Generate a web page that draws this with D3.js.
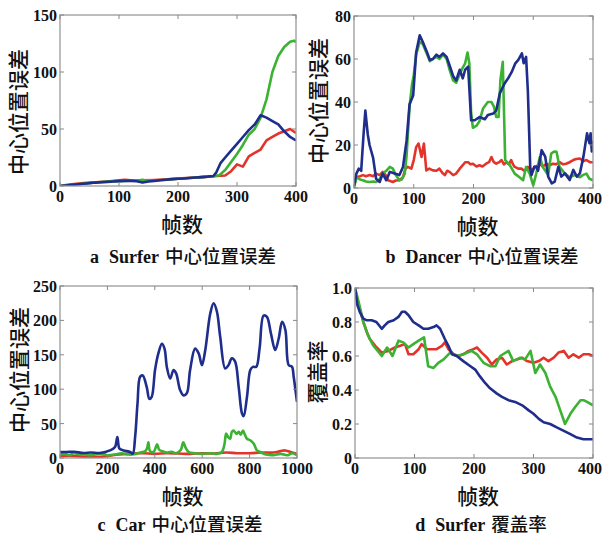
<!DOCTYPE html>
<html>
<head>
<meta charset="utf-8">
<script src="https://cdn.jsdelivr.net/npm/d3@7"></script>
<style>
  body { margin: 0; background: #fff; }
  svg { display: block; }
  .tick-label { font-family: "Liberation Serif", serif; font-weight: bold; font-size: 16px; fill: #111; }
  .cjk { font-family: "Noto Sans CJK SC", sans-serif; font-weight: 500; fill: #111; }
  .latin { font-family: "Liberation Serif", serif; font-weight: bold; fill: #111; }
</style>
</head>
<body>
<div id="chart"></div>
<script>
// colours of the three trackers
const colours = { red: '#e3342c', green: '#3cb233', blue: '#1f2d8c' };

// a: Surfer centre error  [frame, error]
const surferRed = [[0,0],[10,0.8],[20,1.5],[40,2.5],[60,3.3],[80,4],[100,5],[110,5.5],[120,5],[140,5],[160,5.3],[180,5.8],[200,6.5],[220,7.2],[240,7.8],[260,8.5],[280,9.2],[290,13],[300,19],[310,17],[320,26],[330,29],[340,32],[350,40],[360,43],[370,46],[380,48],[390,50],[400,46.5]];
const surferGreen = [[0,0],[10,0.5],[20,1],[40,2],[60,3],[80,3.8],[100,4.3],[120,4.6],[135,5],[140,5.5],[145,4.8],[160,4.8],[180,5.5],[200,6.3],[220,7],[240,7.8],[260,8.5],[270,9.5],[280,14],[290,21],[300,28],[310,36],[320,45],[330,50],[340,60],[350,76],[360,100],[370,114],[380,122],[390,126.5],[397,127.5],[400,126]];
const surferBlue = [[0,0],[10,0.5],[20,1],[30,1.5],[40,2],[50,2.5],[60,3],[70,3.3],[80,3.6],[90,4],[100,4.3],[110,4.5],[120,4.5],[130,4.2],[140,3],[150,4],[160,4.5],[170,5],[180,5.5],[190,6],[200,6.3],[210,6.6],[220,7],[230,7.4],[240,7.8],[250,8.2],[260,8.8],[265,12],[272,20],[280,25],[290,31],[300,37],[310,43],[320,49],[330,54],[340,62],[350,60],[360,57],[370,54],[380,48],[390,43],[400,40]];

// b: Dancer centre error
const dancerRed = [[0,1],[4,5],[10,5.5],[15,6],[20,5.5],[26,6],[32,5.5],[37,6.7],[43,6],[48,7.5],[53,6],[57,3.6],[65,2.8],[70,3.5],[76,3.6],[82,5],[86,9],[90,9.8],[96,9],[100,13],[104,19],[108,20.7],[113,14.4],[117,20.7],[121,8.2],[126,9],[132,8.2],[138,8],[143,9],[148,7],[152,6],[156,8],[160,7.5],[166,6],[171,6.7],[177,9],[182,10.6],[186,12],[191,12],[195,11],[199,11.3],[205,10],[210,10.6],[215,10],[221,11.3],[226,12],[230,14.4],[234,12],[238,11.3],[243,12],[247,13],[251,11],[255,12],[259,11],[263,13],[266,11],[269,9.8],[275,9],[280,9],[285,8],[291,9.8],[296,8.5],[300,9],[305,10],[311,11.3],[316,10],[322,11.3],[327,10.5],[333,11.3],[338,11],[344,12],[350,11],[355,11.3],[361,12],[367,13],[372,13.5],[378,13.7],[384,12.5],[389,13],[395,12],[400,12]];
const dancerGreen = [[0,0],[4,5],[10,4],[15,3.6],[20,3],[26,2.8],[32,3],[37,2.8],[43,4],[48,6.7],[54,8],[60,9.8],[65,9],[70,6],[76,3.6],[80,4],[85,6.7],[88,15],[93,38],[97,48],[100,52.5],[104,62],[110,68],[115,67],[121,63],[127,59],[132,60],[138,61],[143,60],[149,62],[155,60],[160,55],[166,50],[171,49],[177,53],[182,56],[186,58],[190,63],[193,58],[196,35],[199,28],[205,29],[210,31],[216,37],[224,40],[230,40],[234,38],[238,33],[242,33],[245,50],[249,58.7],[253,13],[260,11],[269,6.7],[277,5],[283,3.6],[288,9.8],[294,6.7],[300,1.2],[305,6.7],[311,14.4],[316,9.8],[325,6],[330,16],[335,17],[339,16.8],[344,9.8],[353,6.7],[361,5],[369,6],[378,5],[383,6],[389,6.7],[394,4.3],[400,3.6]];
const dancerBlue = [[0,1],[4,6.7],[8,9],[12,8],[16,25],[19,36],[23,25],[26,20],[32,14],[37,4.3],[43,2.8],[48,6.7],[54,3.6],[60,7.5],[68,6.7],[76,6],[82,9.8],[88,22],[93,39],[99,43],[104,63],[110,71],[115,68],[121,64],[127,59.5],[132,60],[138,62],[143,61],[149,62.6],[155,61],[160,57],[166,52],[171,50],[177,55],[182,51],[186,55],[191,56.4],[196,31.5],[202,31.5],[210,33],[219,32],[224,34],[233,34.6],[238,36],[244,44],[252,48.6],[258,51],[264,54],[270,58],[275,59.6],[281,62.6],[284,58],[288,61],[291,45],[295,9],[297,6],[302,10],[305,9.9],[308,8],[314,17.6],[320,14.6],[325,5.3],[331,2.2],[336,3],[342,9.9],[347,5.3],[353,6.8],[361,3.7],[367,8.4],[373,5.3],[378,6.8],[384,14.6],[390,25.4],[394,20.8],[396,25.4],[398,17],[400,22]];

// c: Car centre error
const carRed = [[0,3],[50,3],[100,2],[150,1],[200,3],[250,5],[300,6.5],[350,7],[400,6],[450,7],[500,6.5],[550,6],[600,7],[650,6.5],[700,8],[750,7],[800,7],[850,8],[900,8],[930,10],[950,11],[970,9],[1000,6]];
const carGreen = [[0,5],[20,6],[40,4],[60,7],[80,5],[100,6],[120,4],[150,5],[180,6],[200,4],[230,5],[260,7],[290,5],[320,6],[340,8],[360,10],[368,15],[373,23],[380,10],[395,9],[410,20],[418,12],[430,10],[450,8],[470,9],[490,7],[510,12],[520,23],[530,15],[545,8],[570,7],[600,6],[630,7],[660,6],[683,8.7],[694,20],[701,35.4],[710,30],[718,28],[725,38],[732,40],[745,35],[754,38],[763,34],[772,40],[780,34],[789,28],[803,25.7],[817,21],[831,11],[845,8.7],[870,5],[900,4],[930,6],[960,4],[980,7],[1000,4]];
const carBlue = [[0,8.7],[28,8.7],[60,9],[99,7.3],[130,8],[169,7.3],[211,11],[232,16],[242,30.6],[251,13.6],[268,11],[296,8.7],[307,6.3],[317,30.6],[327,79],[338,118],[349,120],[366,103],[377,86],[387,89],[401,128],[415,152],[430,166],[441,159],[451,132],[465,115.5],[479,128],[490,123],[507,98.5],[521,91],[535,94],[549,128],[570,159],[585,152],[599,135],[613,157],[634,210],[648,225],[662,213],[676,176],[697,130],[711,135],[725,145],[739,140],[754,103],[768,64.6],[775,60.7],[789,89],[803,128],[814,132.5],[828,132.5],[842,159],[859,207],[873,205],[890,181],[908,157],[923,174],[937,198],[951,186],[965,135],[979,132.5],[986,118],[1000,81.5]];

// d: Surfer overlap rate
const overlapRed = [[0,1.0],[6,0.90],[14,0.80],[20,0.74],[25,0.70],[34,0.66],[45,0.62],[56,0.63],[67,0.65],[76,0.66],[84,0.67],[90,0.61],[98,0.61],[107,0.64],[112,0.67],[121,0.64],[129,0.64],[137,0.64],[146,0.66],[151,0.68],[157,0.64],[166,0.61],[174,0.60],[182,0.61],[191,0.63],[199,0.64],[205,0.65],[213,0.62],[222,0.59],[230,0.55],[238,0.58],[247,0.59],[255,0.55],[264,0.57],[272,0.58],[281,0.59],[289,0.57],[300,0.56],[309,0.57],[317,0.59],[325,0.57],[334,0.59],[342,0.62],[351,0.63],[359,0.59],[367,0.61],[376,0.59],[384,0.61],[393,0.61],[400,0.60]];
const overlapGreen = [[0,1.0],[6,0.92],[14,0.80],[22,0.72],[31,0.66],[45,0.60],[54,0.65],[63,0.60],[73,0.69],[81,0.68],[90,0.65],[98,0.67],[107,0.69],[116,0.71],[123,0.54],[132,0.53],[140,0.56],[149,0.58],[160,0.62],[171,0.60],[182,0.61],[196,0.63],[205,0.61],[216,0.56],[227,0.54],[236,0.54],[244,0.60],[258,0.63],[266,0.57],[278,0.59],[286,0.58],[295,0.63],[303,0.50],[311,0.55],[320,0.50],[328,0.42],[337,0.36],[345,0.28],[353,0.20],[362,0.26],[370,0.30],[379,0.34],[384,0.34],[390,0.33],[400,0.31]];
const overlapBlue = [[0,1.0],[4,0.9],[8,0.86],[14,0.82],[20,0.81],[28,0.81],[36,0.80],[45,0.76],[50,0.78],[56,0.80],[65,0.81],[73,0.83],[79,0.86],[84,0.86],[90,0.84],[98,0.80],[107,0.78],[115,0.76],[123,0.76],[132,0.77],[137,0.78],[143,0.76],[151,0.70],[157,0.66],[163,0.61],[171,0.60],[182,0.57],[194,0.54],[202,0.52],[210,0.48],[219,0.44],[227,0.41],[238,0.38],[247,0.36],[258,0.34],[269,0.33],[281,0.31],[292,0.28],[300,0.26],[309,0.23],[317,0.21],[328,0.20],[339,0.18],[351,0.16],[362,0.14],[373,0.12],[384,0.11],[400,0.11]];

// tick values
const ticks400 = [0, 100, 200, 300, 400];
const ticks1000 = [0, 200, 400, 600, 800, 1000];
const ticksSurfer = [0, 50, 100, 150];
const ticksDancer = [0, 20, 40, 60, 80];
const ticksCar = [0, 50, 100, 150, 200, 250];
const ticksOverlap = [0, 0.2, 0.4, 0.6, 0.8, 1.0];

const xLabel = '帧数';
const errLabel = '中心位置误差';
const overlapLabel = '覆盖率';

const W = 603, H = 537;

const panels = [
  { box: [60, 296, 15, 186], xd: [0, 400], yd: [0, 150], xt: ticks400, yt: ticksSurfer,
    ylab: errLabel, ylx: 17, yly: 112, letter: 'a', name: 'Surfer', cap: errLabel, capx: 183, capy: 263,
    series: [surferRed, surferGreen, surferBlue], curve: d3.curveLinear },
  { box: [354, 593, 16, 188], xd: [0, 400], yd: [0, 80], xt: ticks400, yt: ticksDancer,
    ylab: errLabel, ylx: 317, yly: 101, letter: 'b', name: 'Dancer', cap: errLabel, capx: 482, capy: 263,
    series: [dancerRed, dancerGreen, dancerBlue], curve: d3.curveLinear },
  { box: [60, 297, 286, 458], xd: [0, 1000], yd: [0, 250], xt: ticks1000, yt: ticksCar,
    ylab: errLabel, ylx: 18, yly: 370, letter: 'c', name: 'Car', cap: errLabel, capx: 180, capy: 531,
    series: [carRed, carGreen, carBlue], curve: d3.curveCatmullRom },
  { box: [355, 593, 288, 458], xd: [0, 400], yd: [0, 1], xt: ticks400, yt: ticksOverlap,
    ylab: overlapLabel, ylx: 316, yly: 372, letter: 'd', name: 'Surfer', cap: overlapLabel, capx: 481, capy: 531,
    series: [overlapRed, overlapGreen, overlapBlue], curve: d3.curveLinear,
    yfmt: (d) => d === 0 ? '0' : d3.format('.1f')(d) }
];

const svg = d3.select('#chart').append('svg')
  .attr('width', W)
  .attr('height', H);

panels.forEach((p, i) => {
  const [x0, x1, y0, y1] = p.box;
  const x = d3.scaleLinear().domain(p.xd).range([x0, x1]);
  const y = d3.scaleLinear().domain(p.yd).range([y1, y0]);
  const g = svg.append('g');
  const xfmt = d3.format('d');
  const yfmt = p.yfmt || d3.format('d');

  // clip for the lines
  g.append('clipPath').attr('id', 'clip' + i)
    .append('rect').attr('x', x0).attr('y', y0 - 2)
    .attr('width', x1 - x0).attr('height', y1 - y0 + 2);

  const line = d3.line().x((d) => x(d[0])).y((d) => y(d[1])).curve(p.curve);
  const cols = [colours.red, colours.green, colours.blue];
  g.append('g').attr('clip-path', `url(#clip${i})`)
    .selectAll('path')
    .data(p.series)
    .join('path')
    .attr('d', line)
    .attr('fill', 'none')
    .attr('stroke', (d, k) => cols[k])
    .attr('stroke-width', 2.6)
    .attr('stroke-linejoin', 'round');

  // frame + inward ticks on all four sides
  g.append('rect').attr('x', x0).attr('y', y0)
    .attr('width', x1 - x0).attr('height', y1 - y0)
    .attr('fill', 'none').attr('stroke', '#9a9a9a').attr('stroke-width', 1.3);

  const tk = 4;
  p.xt.forEach((t) => {
    g.append('line').attr('x1', x(t)).attr('x2', x(t)).attr('y1', y1).attr('y2', y1 - tk).attr('stroke', '#888');
    g.append('line').attr('x1', x(t)).attr('x2', x(t)).attr('y1', y0).attr('y2', y0 + tk).attr('stroke', '#888');
  });
  p.yt.forEach((t) => {
    g.append('line').attr('x1', x0).attr('x2', x0 + tk).attr('y1', y(t)).attr('y2', y(t)).attr('stroke', '#888');
    g.append('line').attr('x1', x1).attr('x2', x1 - tk).attr('y1', y(t)).attr('y2', y(t)).attr('stroke', '#888');
  });

  g.selectAll('.xt').data(p.xt).join('text')
    .attr('class', 'tick-label')
    .attr('x', (d) => x(d)).attr('y', y1 + 16)
    .attr('text-anchor', 'middle')
    .text((d) => xfmt(d))
    .each(function () {
      // keep the rightmost label inside the page
      const b = this.getBBox();
      if (b.x + b.width > W - 1) d3.select(this).attr('x', +d3.select(this).attr('x') - (b.x + b.width - W + 1));
    });

  g.selectAll('.yt').data(p.yt).join('text')
    .attr('class', 'tick-label')
    .attr('x', x0 - 3).attr('y', (d) => y(d) + 6)
    .attr('text-anchor', 'end')
    .text((d) => yfmt(d));

  // axis titles
  g.append('text').attr('class', 'cjk')
    .attr('transform', `translate(${p.ylx},${p.yly}) rotate(-90)`)
    .attr('text-anchor', 'middle').attr('dominant-baseline', 'central')
    .style('font-size', '21px')
    .text(p.ylab);

  g.append('text').attr('class', 'cjk')
    .attr('x', (x0 + x1) / 2 + 4).attr('y', y1 + 37)
    .attr('text-anchor', 'middle').attr('dominant-baseline', 'central')
    .style('font-size', '21px')
    .text(xLabel);

  // caption
  const cap = g.append('text')
    .attr('x', p.capx).attr('y', p.capy)
    .attr('text-anchor', 'middle');
  cap.append('tspan').attr('class', 'latin').style('font-size', '18px').text(p.letter);
  cap.append('tspan').attr('class', 'latin').attr('dx', 10).style('font-size', '18px').text(p.name);
  cap.append('tspan').attr('class', 'cjk').attr('dx', 6).style('font-size', '18.5px').text(p.cap);
});
</script>
</body>
</html>
